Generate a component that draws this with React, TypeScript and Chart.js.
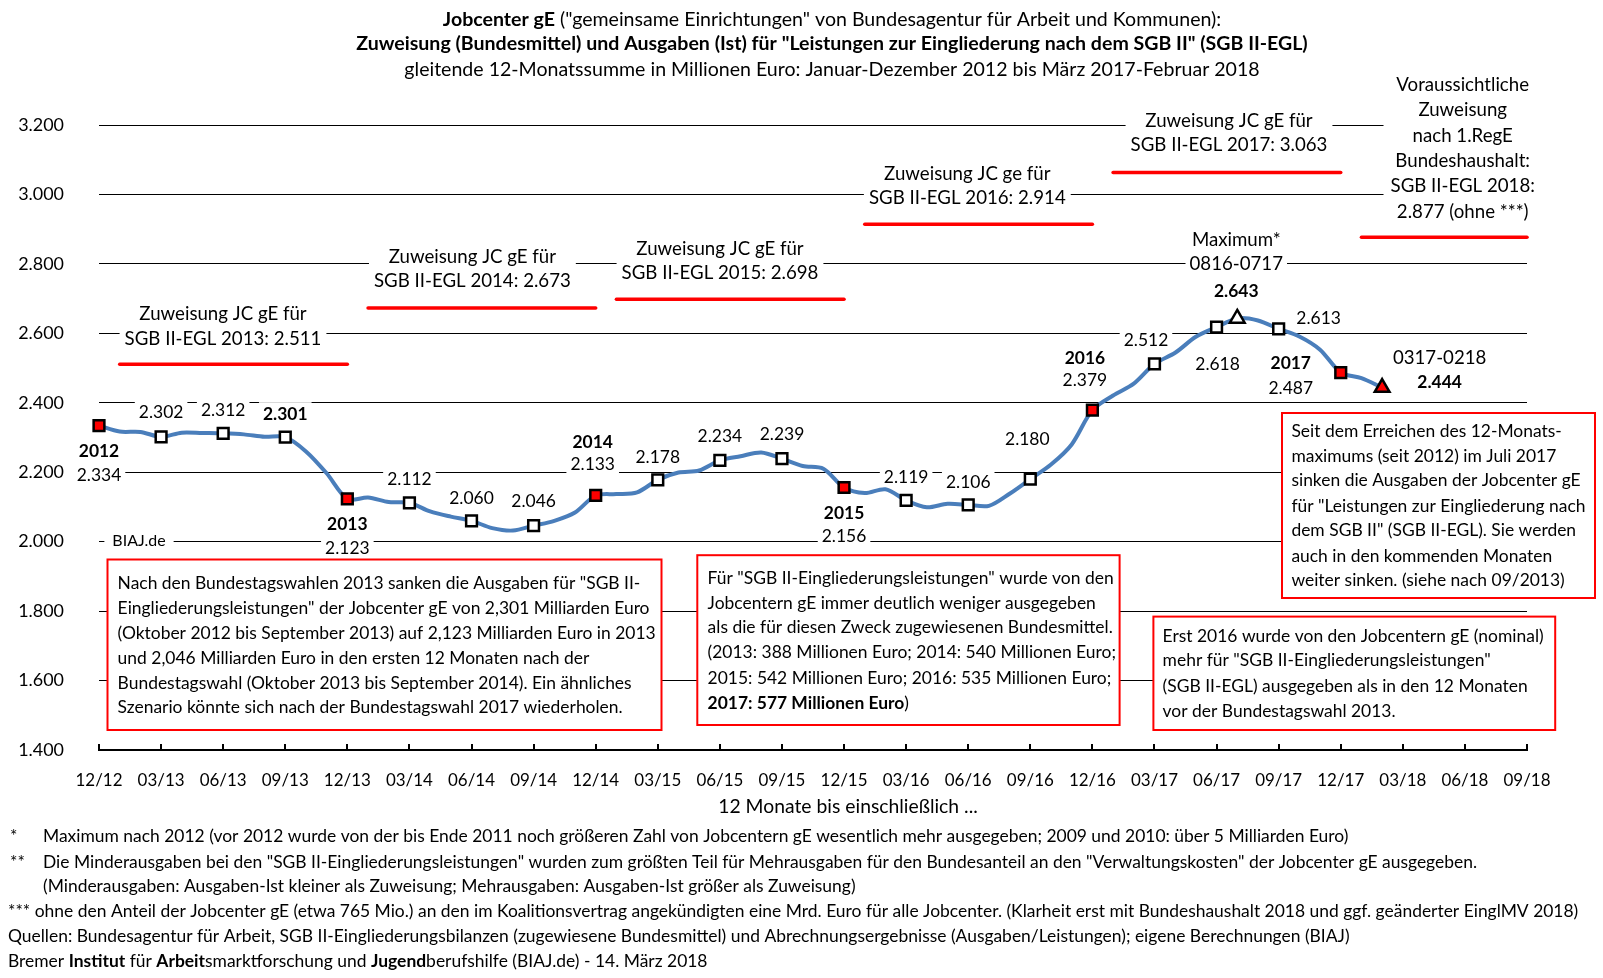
import React, { useEffect, useRef } from "react";
import { Chart, registerables } from "chart.js";

Chart.register(...registerables);

// ---------------- data ----------------
const months = [
  "12/12", "01/13", "02/13", "03/13", "04/13", "05/13", "06/13", "07/13", "08/13", "09/13", "10/13", "11/13",
  "12/13", "01/14", "02/14", "03/14", "04/14", "05/14", "06/14", "07/14", "08/14", "09/14", "10/14", "11/14",
  "12/14", "01/15", "02/15", "03/15", "04/15", "05/15", "06/15", "07/15", "08/15", "09/15", "10/15", "11/15",
  "12/15", "01/16", "02/16", "03/16", "04/16", "05/16", "06/16", "07/16", "08/16", "09/16", "10/16", "11/16",
  "12/16", "01/17", "02/17", "03/17", "04/17", "05/17", "06/17", "07/17", "08/17", "09/17", "10/17", "11/17",
  "12/17", "01/18", "02/18", "03/18", "04/18", "05/18", "06/18", "07/18", "08/18", "09/18",
];

// gleitende 12-Monatssumme, Ausgaben (Ist), Mio. Euro
const expenditure = [
  2334, 2317, 2316, 2302, 2314, 2313, 2312, 2309, 2302, 2301, 2260, 2197,
  2123, 2127, 2114, 2112, 2087, 2072, 2060, 2039, 2032, 2046, 2060, 2084,
  2133, 2137, 2142, 2178, 2199, 2205, 2234, 2246, 2257, 2239, 2218, 2210,
  2156, 2140, 2151, 2119, 2099, 2109, 2106, 2103, 2138, 2180, 2222, 2280,
  2379, 2421, 2455, 2512, 2544, 2590, 2618, 2643, 2637, 2613, 2591, 2553,
  2487, 2471, 2444,
];

const allocationYears = ["2013", "2014", "2015", "2016", "2017", "2018"];
const allocationValues = [2511, 2673, 2698, 2914, 3063, 2877];
const allocationFrom = ["01/13", "01/14", "01/15", "01/16", "01/17", "01/18"];
const allocationTo = ["12/13", "12/14", "12/15", "12/16", "12/17", "09/18"];
const allocationHeads = [
  "Zuweisung JC gE für",
  "Zuweisung JC gE für",
  "Zuweisung JC gE für",
  "Zuweisung JC ge für",
  "Zuweisung JC gE für",
];
const forecastNote = [
  "Voraussichtliche",
  "Zuweisung",
  "nach 1.RegE",
  "Bundeshaushalt:",
  "SGB II-EGL 2018:",
  "2.877 (ohne ***)",
];

const yTickValues = [1400, 1600, 1800, 2000, 2200, 2400, 2600, 2800, 3000, 3200];
const maxMonth = "07/17";
const lastMonth = "02/18";
const maxNote = ["Maximum*", "0816-0717"];
const lastNote = "0317-0218";

const titleLines = [
  [{ t: "Jobcenter gE", b: true }, { t: " (\"gemeinsame Einrichtungen\" von Bundesagentur für Arbeit und Kommunen):" }],
  [{ t: "Zuweisung (Bundesmittel) und Ausgaben (Ist) für \"Leistungen zur Eingliederung nach dem SGB II\" (SGB II-EGL)", b: true }],
  [{ t: "gleitende 12-Monatssumme in Millionen Euro: Januar-Dezember 2012 bis März 2017-Februar 2018" }],
];
const xAxisTitle = "12 Monate bis einschließlich ...";

const box1Lines = [
  "Nach den Bundestagswahlen 2013 sanken die Ausgaben für \"SGB II-",
  "Eingliederungsleistungen\" der Jobcenter gE von 2,301 Milliarden Euro",
  "(Oktober 2012 bis September 2013) auf 2,123 Milliarden Euro in 2013",
  "und 2,046 Milliarden Euro in den ersten 12 Monaten nach der",
  "Bundestagswahl (Oktober 2013 bis September 2014). Ein ähnliches",
  "Szenario könnte sich nach der Bundestagswahl 2017 wiederholen.",
];
const box2Lines = [
  [{ t: "Für \"SGB II-Eingliederungsleistungen\" wurde von den" }],
  [{ t: "Jobcentern gE immer deutlich weniger ausgegeben" }],
  [{ t: "als die für diesen Zweck zugewiesenen Bundesmittel." }],
  [{ t: "(2013: 388 Millionen Euro; 2014: 540 Millionen Euro;" }],
  [{ t: "2015: 542 Millionen Euro; 2016: 535 Millionen Euro;" }],
  [{ t: "2017: 577 Millionen Euro", b: true }, { t: ")" }],
];
const box3Lines = [
  "Seit dem Erreichen des 12-Monats-",
  "maximums (seit 2012) im Juli 2017",
  "sinken die Ausgaben der Jobcenter gE",
  "für \"Leistungen zur Eingliederung nach",
  "dem SGB II\" (SGB II-EGL). Sie werden",
  "auch in den kommenden Monaten",
  "weiter sinken. (siehe nach 09/2013)",
];
const box4Lines = [
  "Erst 2016 wurde von den Jobcentern gE (nominal)",
  "mehr für \"SGB II-Eingliederungsleistungen\"",
  "(SGB II-EGL) ausgegeben als in den 12 Monaten",
  "vor der Bundestagswahl 2013.",
];

const footnotes = [
  { mark: "*", segs: [{ t: "Maximum nach 2012 (vor 2012 wurde von der bis Ende 2011 noch größeren Zahl von Jobcentern gE wesentlich mehr ausgegeben; 2009 und 2010: über 5 Milliarden Euro)" }] },
  { mark: "**", segs: [{ t: "Die Minderausgaben bei den \"SGB II-Eingliederungsleistungen\" wurden zum größten Teil für Mehrausgaben für den Bundesanteil an den \"Verwaltungskosten\" der Jobcenter gE ausgegeben." }] },
  { mark: "", segs: [{ t: "(Minderausgaben: Ausgaben-Ist kleiner als Zuweisung; Mehrausgaben: Ausgaben-Ist größer als Zuweisung)" }] },
  { mark: null, segs: [{ t: "*** ohne den Anteil der Jobcenter gE (etwa 765 Mio.) an den im Koalitionsvertrag angekündigten eine Mrd. Euro für alle Jobcenter. (Klarheit erst mit Bundeshaushalt 2018 und ggf. geänderter EinglMV 2018)" }] },
  { mark: null, segs: [{ t: "Quellen: Bundesagentur für Arbeit, SGB II-Eingliederungsbilanzen (zugewiesene Bundesmittel) und Abrechnungsergebnisse (Ausgaben/Leistungen); eigene Berechnungen (BIAJ)" }] },
  { mark: null, segs: [{ t: "Bremer " }, { t: "Institut", b: true }, { t: " für " }, { t: "Arbeit", b: true }, { t: "smarktforschung und " }, { t: "Jugend", b: true }, { t: "berufshilfe (BIAJ.de) - 14. März 2018" }] },
];
const watermark = "BIAJ.de";

// ---------------- styling ----------------
const FAMILY = 'Lato, "Open Sans", "DejaVu Sans", sans-serif';
const TEXT = "#000";
const LINE_BLUE = "#4A7EBB";
const RED = "#FF0000";

type Seg = { t: string; b?: boolean };

const fmt = (v: number) => `${Math.floor(v / 1000)}.${String(Math.round(v) % 1000).padStart(3, "0")}`;
const fontOf = (size: number, bold?: boolean) => `${bold ? "bold " : ""}${size}px ${FAMILY}`;

function calibrate(): number {
  const c = document.createElement("canvas").getContext("2d")!;
  c.font = fontOf(100);
  const w = c.measureText(footnotes[3].segs[0].t).width;
  const s = (100 * 1572) / w;
  return Math.max(14, Math.min(20, s));
}

function segWidth(ctx: CanvasRenderingContext2D, segs: Seg[], size: number) {
  let total = 0;
  for (const s of segs) {
    ctx.font = fontOf(size, s.b);
    total += ctx.measureText(s.t).width;
  }
  return total;
}

function drawSegs(ctx: CanvasRenderingContext2D, segs: Seg[], x: number, y: number, align: "left" | "center", size: number) {
  const total = segWidth(ctx, segs, size);
  let cx = align === "center" ? x - total / 2 : x;
  ctx.textAlign = "left";
  ctx.textBaseline = "middle";
  ctx.fillStyle = TEXT;
  for (const s of segs) {
    ctx.font = fontOf(size, s.b);
    ctx.fillText(s.t, cx, y);
    cx += ctx.measureText(s.t).width;
  }
  return total;
}

function boxedBlock(ctx: CanvasRenderingContext2D, lines: Seg[][], cx: number, ys: number[], size: number, padX = 5) {
  const widths = lines.map((l) => segWidth(ctx, l, size));
  const maxW = Math.max(...widths);
  ctx.fillStyle = "#fff";
  ctx.fillRect(cx - maxW / 2 - padX, ys[0] - 12, maxW + 2 * padX, ys[ys.length - 1] - ys[0] + 24);
  lines.forEach((l, i) => drawSegs(ctx, l, cx, ys[i], "center", size));
}

function textBox(ctx: CanvasRenderingContext2D, x: number, y: number, w: number, h: number, lines: Seg[][], tx: number, ys: number[], size: number) {
  ctx.fillStyle = "#fff";
  ctx.fillRect(x, y, w, h);
  ctx.strokeStyle = RED;
  ctx.lineWidth = 2;
  ctx.strokeRect(x, y, w, h);
  lines.forEach((l, i) => drawSegs(ctx, l, tx, ys[i], "left", size));
}

export default function App() {
  const ref = useRef<HTMLCanvasElement>(null);

  useEffect(() => {
    document.body.style.margin = "0";
    const BASE = calibrate();
    const NOTE = BASE * 1.07;
    const TITLE = (BASE + 0.5) * 1.09;

    const maxIdx = months.indexOf(maxMonth);
    const lastIdx = months.indexOf(lastMonth);
    const isDec = (i: number) => months[i].startsWith("12/");
    const yearOf = (i: number) => "20" + months[i].slice(3);

    // label placement relative to the point (pixels)
    type LabelLine = { dy: number; kind: "value" | "year" | "text"; text?: string; bold?: boolean };
    const placement: Record<number, { dx: number; lines: LabelLine[] }> = {
      0: { dx: 0, lines: [{ dy: 26, kind: "year", bold: true }, { dy: 50, kind: "value" }] },
      3: { dx: 0, lines: [{ dy: -24, kind: "value" }] },
      6: { dx: 0, lines: [{ dy: -23, kind: "value" }] },
      9: { dx: 0, lines: [{ dy: -23, kind: "value", bold: true }] },
      12: { dx: 0, lines: [{ dy: 25, kind: "year", bold: true }, { dy: 49, kind: "value" }] },
      15: { dx: 0, lines: [{ dy: -23.5, kind: "value" }] },
      18: { dx: 0, lines: [{ dy: -22.7, kind: "value" }] },
      21: { dx: 0, lines: [{ dy: -24, kind: "value" }] },
      24: { dx: -3, lines: [{ dy: -53.4, kind: "year", bold: true }, { dy: -30.7, kind: "value" }] },
      27: { dx: 0, lines: [{ dy: -22.7, kind: "value" }] },
      30: { dx: 0, lines: [{ dy: -24, kind: "value" }] },
      33: { dx: 0, lines: [{ dy: -24, kind: "value" }] },
      36: { dx: 0, lines: [{ dy: 26.3, kind: "year", bold: true }, { dy: 49, kind: "value" }] },
      39: { dx: 0, lines: [{ dy: -23.3, kind: "value" }] },
      42: { dx: 0, lines: [{ dy: -22.3, kind: "value" }] },
      45: { dx: -3, lines: [{ dy: -40, kind: "value" }] },
      48: { dx: -7.5, lines: [{ dy: -52, kind: "year", bold: true }, { dy: -29.6, kind: "value" }] },
      51: { dx: -8.5, lines: [{ dy: -24, kind: "value" }] },
      54: { dx: 1, lines: [{ dy: 37.7, kind: "value" }] },
      [maxIdx]: {
        dx: -1,
        lines: [
          { dy: -78, kind: "text", text: maxNote[0] },
          { dy: -54, kind: "text", text: maxNote[1] },
          { dy: -27, kind: "value", bold: true },
        ],
      },
      57: { dx: 40, lines: [{ dy: -10.7, kind: "value" }] },
      60: { dx: -50, lines: [{ dy: -9.5, kind: "year", bold: true }, { dy: 15.5, kind: "value" }] },
      [lastIdx]: { dx: 57.5, lines: [{ dy: -30, kind: "text", text: lastNote }, { dy: -5, kind: "value", bold: true }] },
    };

    const allocationSets = allocationValues.map((v, k) => {
      const s = months.indexOf(allocationFrom[k]);
      const e = months.indexOf(allocationTo[k]);
      return {
        type: "line" as const,
        label: "Zuweisung " + allocationYears[k],
        data: months.map((_, i) => (i >= s && i <= e ? v : null)),
        borderColor: RED,
        borderWidth: 3.5,
        borderCapStyle: "round" as const,
        pointRadius: 0,
        spanGaps: false,
        clip: false as const,
        order: 2,
      };
    });

    const annotate = {
      id: "annotate",
      beforeDatasetsDraw(chart: any) {
        const ctx: CanvasRenderingContext2D = chart.ctx;
        const xs = chart.scales.x;
        const ys = chart.scales.y;
        ctx.save();

        // data labels
        Object.keys(placement).forEach((key) => {
          const i = Number(key);
          const p = placement[i];
          const px = xs.getPixelForValue(i) + p.dx;
          const py = ys.getPixelForValue(expenditure[i]);
          p.lines.forEach((ln) => {
            const text = ln.kind === "value" ? fmt(expenditure[i]) : ln.kind === "year" ? yearOf(i) : ln.text!;
            const size = ln.kind === "text" ? NOTE : BASE;
            boxedBlock(ctx, [[{ t: text, b: ln.bold }]], px, [py + ln.dy], size, 4);
          });
        });

        // allocation notes
        const notePos = [
          [223, 314],
          [472.4, 256.6],
          [720, 248.5],
          [967.3, 173.8],
          [1229, 120.7],
        ];
        allocationHeads.forEach((h, k) => {
          const [cx, y0] = notePos[k];
          boxedBlock(
            ctx,
            [[{ t: h }], [{ t: `SGB II-EGL ${allocationYears[k]}: ${fmt(allocationValues[k])}` }]],
            cx,
            [y0, y0 + 24.6],
            NOTE
          );
        });
        boxedBlock(
          ctx,
          forecastNote.map((t) => [{ t }]),
          1462.7,
          forecastNote.map((_, i) => 85 + i * 25.35),
          NOTE,
          7
        );

        // watermark
        boxedBlock(ctx, [[{ t: watermark }]], 139, [541], BASE - 1.5, 8);

        // text boxes
        textBox(ctx, 107.5, 559.5, 554, 170.5, box1Lines.map((t) => [{ t }]), 117.6, [583.8, 608.4, 633, 658.5, 683, 707.6], BASE);
        textBox(ctx, 697.3, 555.2, 422.3, 169.8, box2Lines, 707.6, [578.7, 603.3, 627.8, 652.4, 678, 703.5], BASE);
        textBox(ctx, 1282, 413, 313, 185, box3Lines.map((t) => [{ t }]), 1291.4, [431.5, 456, 480.6, 506, 530.7, 556, 580.8], BASE);
        textBox(ctx, 1153.4, 616.6, 401.8, 113.4, box4Lines.map((t) => [{ t }]), 1162.6, [636, 660.5, 686, 711.7], BASE);

        ctx.restore();
      },
      afterDatasetsDraw(chart: any) {
        const ctx: CanvasRenderingContext2D = chart.ctx;
        const xs = chart.scales.x;
        const bottom = chart.chartArea.bottom;
        ctx.save();
        ctx.strokeStyle = "#000";
        ctx.lineWidth = 2;
        ctx.beginPath();
        for (let i = 0; i < months.length; i += 3) {
          const x = Math.round(xs.getPixelForValue(i));
          ctx.moveTo(x, bottom);
          ctx.lineTo(x, bottom - 6);
        }
        ctx.stroke();
        ctx.restore();
      },
      afterDraw(chart: any) {
        const ctx: CanvasRenderingContext2D = chart.ctx;
        ctx.save();
        const tY = [19.5, 44, 69.5];
        titleLines.forEach((l, i) => drawSegs(ctx, l as Seg[], 832, tY[i], "center", TITLE));
        drawSegs(ctx, [{ t: xAxisTitle }], 848, 807, "center", (BASE + 0.5) * 1.077);
        const fY = [836.4, 862, 886.5, 911, 936.6, 961];
        footnotes.forEach((f, i) => {
          if (f.mark === null) {
            drawSegs(ctx, f.segs, 8, fY[i], "left", BASE);
          } else {
            if (f.mark) drawSegs(ctx, [{ t: f.mark }], 10, fY[i], "left", BASE);
            drawSegs(ctx, f.segs, 43, fY[i], "left", BASE);
          }
        });
        ctx.restore();
      },
    };

    const chart = new Chart(ref.current!, {
      type: "line",
      data: {
        labels: months,
        datasets: [
          {
            label: "Ausgaben (Ist)",
            data: expenditure,
            borderColor: LINE_BLUE,
            borderWidth: 4,
            tension: 0.3,
            clip: false as const,
            order: 0,
            pointStyle: (c: any) => (c.dataIndex === maxIdx || c.dataIndex === lastIdx ? "triangle" : "rect"),
            pointRadius: (c: any) => {
              const i = c.dataIndex;
              if (i === maxIdx || i === lastIdx) return 8.5;
              return i % 3 === 0 ? 7.6 : 0;
            },
            pointHoverRadius: 0,
            pointBackgroundColor: (c: any) => (isDec(c.dataIndex) || c.dataIndex === lastIdx ? RED : "#fff"),
            pointBorderColor: "#000",
            pointBorderWidth: 2.5,
          } as any,
          ...allocationSets,
        ],
      },
      options: {
        responsive: false,
        maintainAspectRatio: false,
        animation: false,
        events: [],
        layout: { padding: { top: 125, right: 76, left: 0, bottom: 0 } },
        plugins: {
          legend: { display: false },
          tooltip: { enabled: false },
          title: { display: false },
        },
        scales: {
          x: {
            type: "category",
            grid: { display: false, drawTicks: false },
            border: { display: true, color: "#000", width: 2 },
            ticks: {
              autoSkip: false,
              maxRotation: 0,
              minRotation: 0,
              padding: 20,
              color: TEXT,
              font: { family: FAMILY, size: BASE - 0.5 },
              callback: (_v: any, i: number) => (i % 3 === 0 ? months[i] : ""),
            },
            afterFit: (s: any) => {
              s.height = 978 - 750;
            },
          },
          y: {
            min: 1400,
            max: 3200,
            afterBuildTicks: (s: any) => {
              s.ticks = yTickValues.map((v) => ({ value: v }));
            },
            grid: {
              drawTicks: false,
              color: (c: any) => (c.tick && c.tick.value === 1400 ? "rgba(0,0,0,0)" : "#000"),
              lineWidth: 1,
            },
            border: { display: false },
            ticks: {
              padding: 35,
              color: TEXT,
              font: { family: FAMILY, size: BASE + 0.5 },
              callback: (v: any) => fmt(Number(v)),
            },
            afterFit: (s: any) => {
              s.width = 99;
            },
          },
        },
      },
      plugins: [annotate],
    });

    return () => chart.destroy();
  }, []);

  return (
    <div style={{ width: 1603, height: 978, position: "relative", background: "#fff" }}>
      <canvas ref={ref} width={1603} height={978} style={{ display: "block", width: 1603, height: 978 }} />
    </div>
  );
}
